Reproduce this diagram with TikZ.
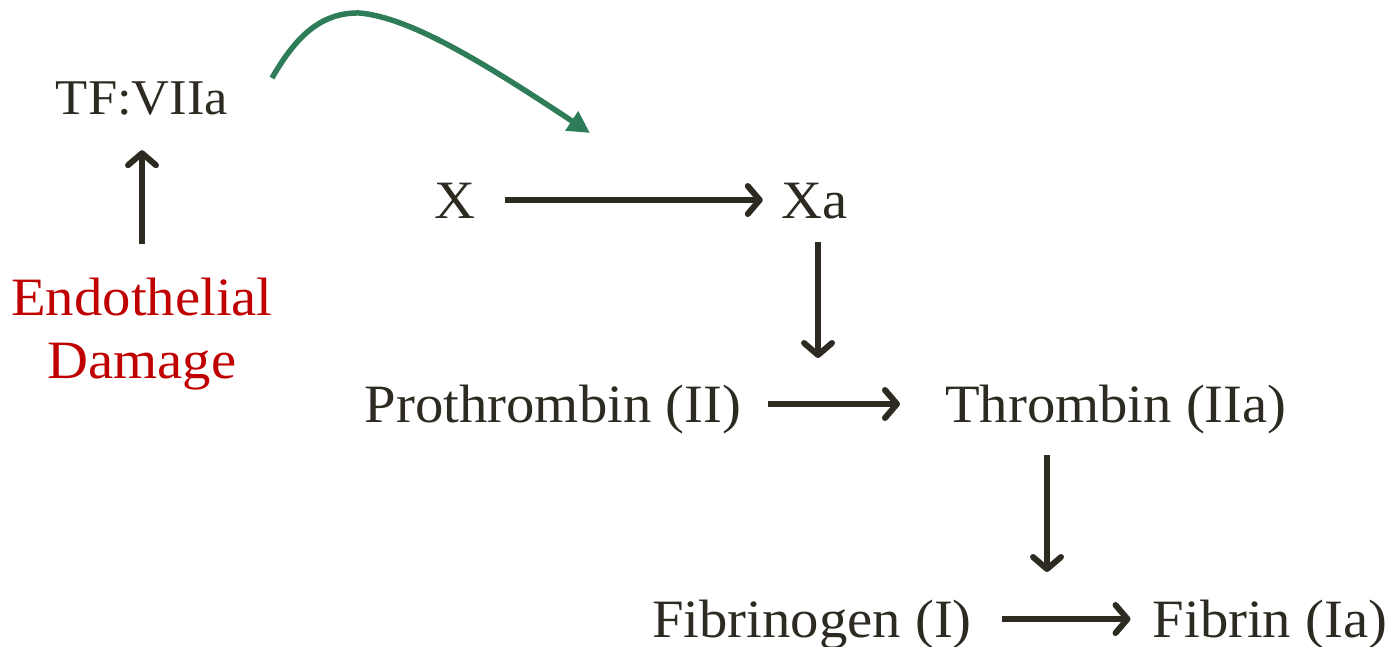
\documentclass[tikz,border=0pt]{standalone}
\usepackage{fontspec}
\setmainfont{Liberation Serif}[FakeStretch=1.05]
\usetikzlibrary{arrows.meta}
\definecolor{txt}{RGB}{45,42,34}
\definecolor{redtxt}{RGB}{192,0,0}
\definecolor{grn}{RGB}{46,125,88}
\begin{document}
\begin{tikzpicture}[x=1pt,y=-1pt,
  lbl/.style={inner sep=0pt, text height=36pt, text depth=0pt, anchor=base, text=txt,
    font=\fontsize{54}{63}\selectfont},
  arr/.style={draw=txt, line width=6pt, -{Straight Barb[length=12pt,width=28pt,round]}},
  garr/.style={draw=grn, line width=5.5pt, -{Triangle[length=22pt,width=22pt]}}]
\useasboundingbox (0,0) rectangle (1391,646);
\node[lbl, font=\fontsize{50}{63}\selectfont] (tf) at (142,114) {TF:VIIa};
\node[lbl, anchor=north, text=redtxt, align=center, text height=, text depth=] (ed) at (142,278) {Endothelial\\Damage};
\node[lbl] (x) at (455,218) {X};
\node[lbl] (xa) at (815,218) {Xa};
\node[lbl] (pro) at (553,422) {Prothrombin (II)};
\node[lbl] (thr) at (1116,422) {Thrombin (IIa)};
\node[lbl] (fbg) at (812,637) {Fibrinogen (I)};
\node[lbl] (fbn) at (1270,637) {Fibrin (Ia)};
\coordinate (c1) at (818,358);
\coordinate (c2) at (1047,572);
\coordinate (gs) at (272,78);
\coordinate (ge) at (590,133);
\draw[arr, shorten <=34pt, shorten >=36pt] (ed.north) -- (tf.south);
\draw[arr, shorten <=29pt, shorten >=19pt] (x.east) -- (xa.west);
\draw[arr, shorten <=24pt] (xa.south -| c1) -- (c1);
\draw[arr, shorten <=27pt, shorten >=45pt] (pro.east) -- (thr.west);
\draw[arr, shorten <=33pt] (thr.south -| c2) -- (c2);
\draw[arr, shorten <=30pt, shorten >=22pt] (fbg.east) -- (fbn.west);
\draw[garr] (gs) .. controls (295,38) and (320,12) .. (360,13)
  .. controls (410,18) and (480,60) .. (ge);
\end{tikzpicture}
\end{document}
